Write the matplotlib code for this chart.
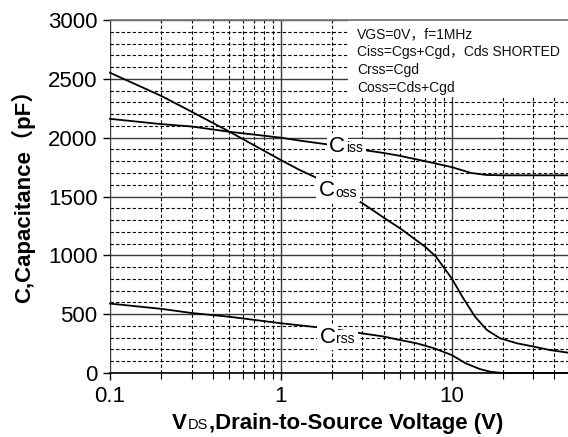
# capacitance vs VDS chart

import numpy as np
import matplotlib
matplotlib.use("Agg")
from matplotlib import pyplot as plt
from matplotlib.patches import Rectangle
from matplotlib.ticker import MultipleLocator, LogLocator, NullFormatter

# data (V, pF)
ciss_v = [0.1, 0.2, 0.3, 0.5, 1.0, 1.29, 1.81, 2.4, 3.05, 4.0, 5.0, 7.0, 10.0, 13.0, 16.0, 20.0, 48.0]
ciss_c = [2160, 2115, 2095, 2050, 2000, 1975, 1946, 1920, 1895, 1870, 1845, 1800, 1750, 1700, 1683, 1680, 1680]

coss_v = [0.1, 0.2, 0.3, 0.5, 1.0, 1.29, 1.58, 2.2, 2.99, 4.2, 5.0, 7.0, 8.1, 10.0, 11.7, 13.7, 16.1, 19.2, 24.2, 30.3, 37.6, 48.0]
coss_c = [2552, 2354, 2221, 2051, 1810, 1725, 1666, 1550, 1445, 1300, 1229, 1073, 988, 805, 635, 479, 365, 295, 252, 224, 195, 173]

crss_v = [0.1, 0.2, 0.3, 0.5, 1.0, 1.58, 2.2, 2.8, 4.0, 5.0, 6.25, 7.9, 10.0, 12.1, 14.6, 16.8, 19.2, 22.0, 48.0]
crss_c = [590, 545, 510, 478, 423, 391, 365, 343, 310, 280, 252, 210, 153, 82, 34, 11, 2, 0, 0]

xticks = [0.1, 1, 10]
xtick_labels = ["0.1", "1", "10"]
yticks = [0, 500, 1000, 1500, 2000, 2500, 3000]

notes = ["VGS=0V，f=1MHz", "Ciss=Cgs+Cgd，Cds SHORTED", "Crss=Cgd", "Coss=Cds+Cgd"]

# curve labels: (big letter, small part, x, y)
curve_labels = [("C", "iss", 1.92, 1881), ("C", "oss", 1.67, 1504), ("C", "rss", 1.69, 257)]

SANS = ["Liberation Sans", "Noto Sans CJK SC", "DejaVu Sans"]
plt.rcParams["font.family"] = SANS


def draw():
    fig = plt.figure(figsize=(5.68, 4.37), dpi=100)
    ax = fig.add_axes([110 / 568, 1 - 373 / 437, 1 - 110 / 568, (373 - 20) / 437])

    ax.set_xscale("log")
    ax.set_xlim(0.1, 48)
    ax.set_ylim(0, 3000)

    ax.set_xticks(xticks)
    ax.set_xticklabels(xtick_labels)
    ax.xaxis.set_minor_locator(LogLocator(base=10, subs=np.arange(2, 10)))
    ax.xaxis.set_minor_formatter(NullFormatter())
    ax.set_yticks(yticks)
    ax.yaxis.set_minor_locator(MultipleLocator(100))

    ax.tick_params(axis="both", which="major", labelsize=16, direction="out", length=5, width=1, pad=4)
    ax.tick_params(axis="x", which="minor", direction="out", length=4, width=0.8)
    ax.tick_params(axis="y", which="minor", length=0)

    ax.set_axisbelow(True)
    ax.grid(which="major", color="#3a3a3a", lw=1.0, ls="-")
    ax.grid(which="minor", color="black", lw=0.8, ls=(0, (3, 2)))

    for s in ("left", "right"):
        ax.spines[s].set_visible(False)
    ax.spines["top"].set_color("#777777")
    ax.spines["top"].set_linewidth(1.3)
    ax.spines["bottom"].set_color("black")
    ax.spines["bottom"].set_linewidth(1.2)

    # white area behind the notes
    ax.add_patch(Rectangle((2.47, 2346), 60, 700, facecolor="white", edgecolor="none", zorder=1))

    for v, c in [(ciss_v, ciss_c), (coss_v, coss_c), (crss_v, crss_c)]:
        ax.plot(v, c, color="black", lw=1.3, zorder=2, clip_on=False)

    for big, small, x, y in curve_labels:
        # white patch behind the big letter, then the small part, then the letter on top
        bg = ax.text(x, y, big, fontsize=16, color="none", zorder=3, ha="left", va="baseline",
                     bbox=dict(facecolor="white", edgecolor="none", pad=2.0))
        ax.annotate(small, xy=(1, 0), xycoords=bg, xytext=(0.5, 1.0), textcoords="offset points",
                    fontsize=10, ha="left", va="bottom", zorder=4,
                    bbox=dict(facecolor="white", edgecolor="none", pad=2.0))
        ax.text(x, y, big, fontsize=16, color="black", zorder=5, ha="left", va="baseline")

    for i, line in enumerate(notes):
        fig.text(357 / 568, 1 - (38 + 18 * i) / 437, line, fontsize=10, family=SANS,
                 ha="left", va="baseline", color="#111111")

    # y label
    fig.text(23 / 568, 1 - 191 / 437, "C,Capacitance（pF）", rotation=90, fontsize=16,
             fontweight="bold", ha="center", va="center", family=SANS)

    # x label built from pieces so "DS" can be smaller
    p1 = fig.text(172 / 568, 1 - 429 / 437, "V", fontsize=16, fontweight="bold", ha="left", va="baseline")
    p2 = fig.text(0, 0, "DS", fontsize=10.5, ha="left", va="baseline")
    fig.canvas.draw()
    r = fig.canvas.get_renderer()
    bb = p1.get_window_extent(r)
    p2.set_position(((bb.x1 + 1) / fig.bbox.width, 1 - 429 / 437))
    bb2 = p2.get_window_extent(r)
    fig.text((bb2.x1 + 1) / fig.bbox.width, 1 - 429 / 437, ",Drain-to-Source Voltage (V)",
             fontsize=16, fontweight="bold", ha="left", va="baseline")

    fig.savefig("out.png", dpi=100)


def main():
    draw()


if __name__ == "__main__":
    main()
